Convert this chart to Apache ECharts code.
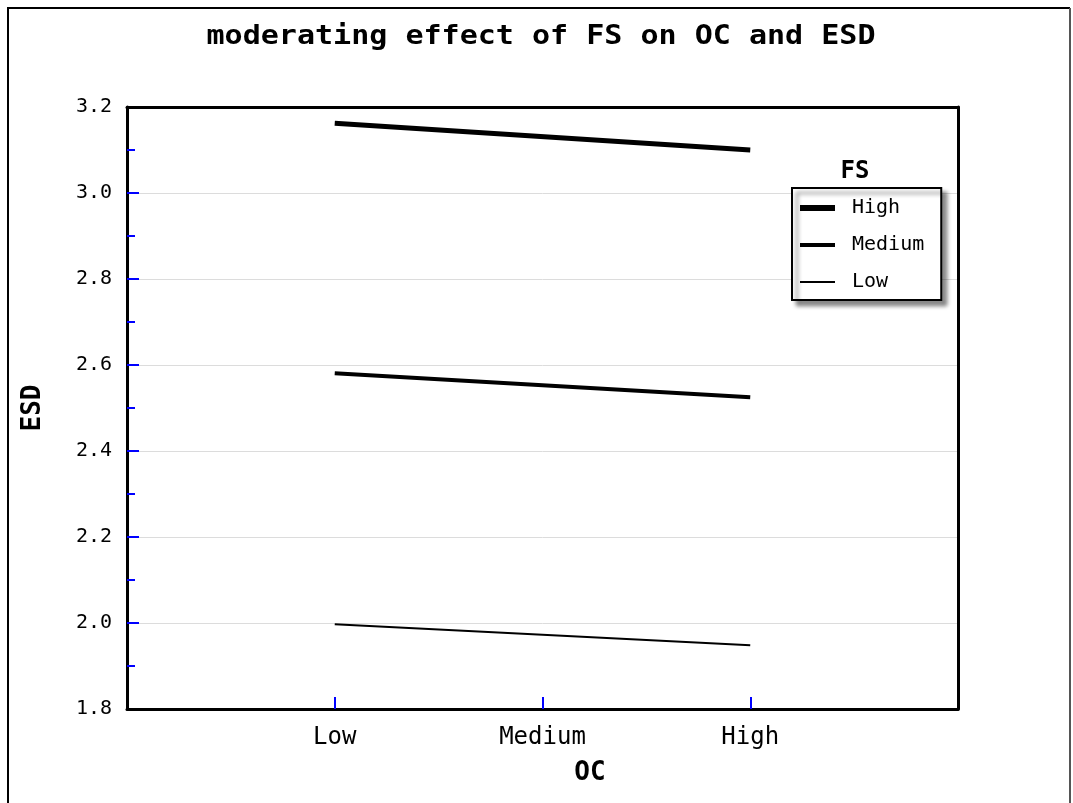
<!DOCTYPE html>
<html>
<head>
<meta charset="utf-8">
<script src="https://cdn.jsdelivr.net/npm/echarts@6/dist/echarts.min.js"></script>
<style>
html,body{margin:0;padding:0;background:#fff;}
#chart{width:1073px;height:803px;}
</style>
</head>
<body>
<div id="chart"></div>
<script>
// ---- data ----
var titleText = 'moderating effect of FS on OC and ESD';
var xAxisName = 'OC';
var yAxisName = 'ESD';
var legendTitle = 'FS';
var ocLabels = ['Low', 'Medium', 'High'];   // x tick labels at positions 1,2,3
var ocPositions = [1, 3];                    // OC levels where lines are drawn (Low, High)
var fsNames = ['High', 'Medium', 'Low'];
var fsHigh = [3.162, 3.100];
var fsMedium = [2.581, 2.525];
var fsLow = [1.997, 1.948];
var yTicks = [1.8, 2.0, 2.2, 2.4, 2.6, 2.8, 3.0, 3.2];

var FONT = 'DejaVu Sans Mono';

function pairs(xs, ys) { return xs.map(function (x, i) { return [x, ys[i]]; }); }

var seriesValues = [fsHigh, fsMedium, fsLow];
var widths = [5, 4, 2];
var iconPaths = ['path://M0,0H35V6H0Z', 'path://M0,0H35V4H0Z', 'path://M0,0H35V2H0Z'];

var frameAxisLine = { show: true, onZero: false, lineStyle: { color: '#000', width: 3 } };

var chart = echarts.init(document.getElementById('chart'), null, { renderer: 'canvas' });
chart.setOption({
  backgroundColor: '#fff',
  animation: false,
  grid: {
    left: 127, top: 107, width: 831, height: 602,
    show: false, containLabel: false
  },
  legend: {
    data: fsNames.map(function (n, i) { return { name: n, icon: iconPaths[i] }; }),
    orient: 'vertical',
    left: 792, top: 188,
    padding: [10, 17, 8, 8],
    itemWidth: 35, itemHeight: 14, itemGap: 17,
    symbolKeepAspect: true,
    backgroundColor: '#fff',
    borderColor: '#000', borderWidth: 2,
    shadowColor: 'rgba(0,0,0,0.45)', shadowBlur: 4, shadowOffsetX: 5, shadowOffsetY: 5,
    itemStyle: { color: '#000' },
    textStyle: { fontFamily: FONT, fontSize: 20, color: '#000', padding: [0, 0, 0, 12] }
  },
  xAxis: [{
    type: 'value', min: 0, max: 4, interval: 1,
    axisLine: frameAxisLine,
    splitLine: { show: false },
    axisTick: { show: true, inside: true, length: 12, customValues: [1, 2, 3], lineStyle: { color: '#0000ff', width: 2 } },
    axisLabel: {
      customValues: [1, 2, 3],
      formatter: function (v) { return ocLabels[Math.round(v) - 1] || ''; },
      fontFamily: FONT, fontSize: 24, color: '#000', margin: 17
    }
  }, {
    type: 'value', min: 0, max: 4, position: 'top',
    axisLine: frameAxisLine, axisTick: { show: false }, axisLabel: { show: false }, splitLine: { show: false }
  }],
  yAxis: [{
    type: 'value', min: yTicks[0], max: yTicks[yTicks.length - 1], interval: 0.2,
    axisLine: frameAxisLine,
    splitLine: { show: true, lineStyle: { color: '#dcdcdc', width: 1 } },
    axisTick: { show: true, inside: true, length: 12, customValues: yTicks.slice(1, -1), lineStyle: { color: '#0000ff', width: 2 } },
    minorTick: { show: true, splitNumber: 2, length: 8, lineStyle: { color: '#0000ff', width: 2 } },
    axisLabel: {
      customValues: yTicks,
      formatter: function (v) { return v.toFixed(1); },
      fontFamily: FONT, fontSize: 20, color: '#000', margin: 15
    }
  }, {
    type: 'value', min: yTicks[0], max: yTicks[yTicks.length - 1], position: 'right',
    axisLine: frameAxisLine, axisTick: { show: false }, axisLabel: { show: false }, splitLine: { show: false }
  }],
  graphic: [
    { type: 'polyline', shape: { points: [[8, 803], [8, 8], [1070, 8]] }, style: { stroke: '#000', lineWidth: 2, fill: null } },
    { type: 'line', shape: { x1: 1070, y1: 8, x2: 1070, y2: 803 }, style: { stroke: '#555', lineWidth: 2 } },
    { type: 'text', x: 541, y: 37, scaleX: 1.155, style: { text: titleText, font: 'bold 26px "' + FONT + '"', fill: '#000', textAlign: 'center', textVerticalAlign: 'middle' } },
    { type: 'text', x: 855, y: 172, style: { text: legendTitle, font: 'bold 24px "' + FONT + '"', fill: '#000', textAlign: 'center', textVerticalAlign: 'middle' } },
    { type: 'text', x: 590, y: 773, style: { text: xAxisName, font: 'bold 26px "' + FONT + '"', fill: '#000', textAlign: 'center', textVerticalAlign: 'middle' } },
    { type: 'text', x: 33, y: 408, rotation: Math.PI / 2, style: { text: yAxisName, font: 'bold 26px "' + FONT + '"', fill: '#000', textAlign: 'center', textVerticalAlign: 'middle' } }
  ],
  series: fsNames.map(function (name, i) {
    return {
      name: name, type: 'line', symbol: 'none', xAxisIndex: 0, yAxisIndex: 0,
      data: pairs(ocPositions, seriesValues[i]),
      lineStyle: { color: '#000', width: widths[i] },
      itemStyle: { color: '#000' }
    };
  })
});
</script>
</body>
</html>
